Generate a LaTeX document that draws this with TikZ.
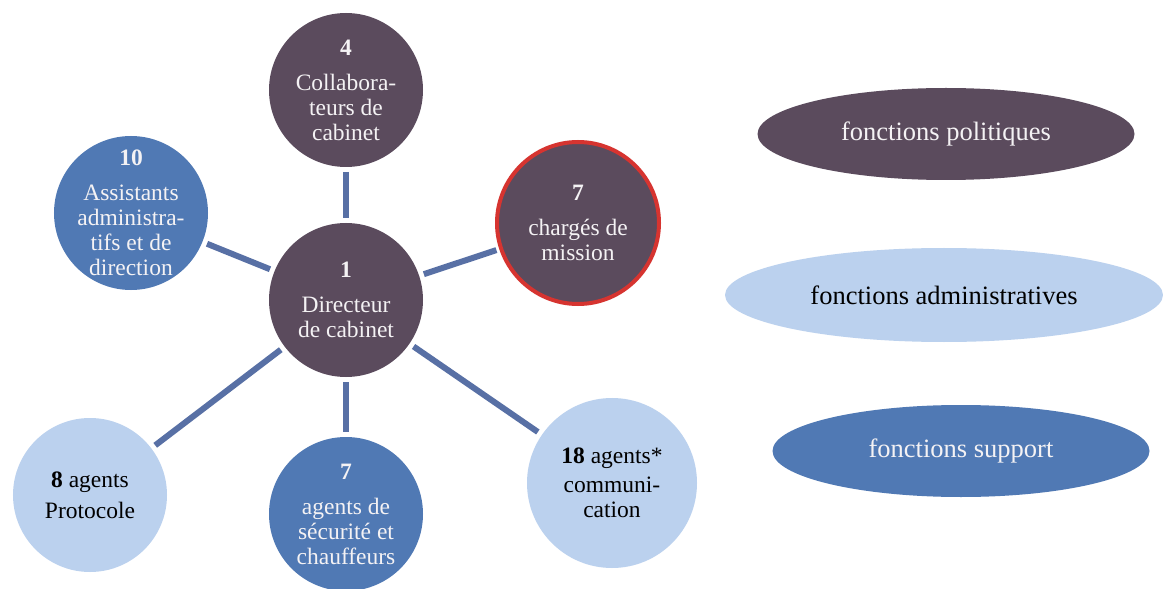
\documentclass[tikz,border=0pt]{standalone}
\usepackage{fontspec}
\setmainfont{Liberation Serif}
\usetikzlibrary{shapes.geometric}
\definecolor{darkp}{RGB}{91,75,93}
\definecolor{midb}{RGB}{80,121,180}
\definecolor{lightb}{RGB}{187,209,238}
\definecolor{linec}{RGB}{88,112,165}
\definecolor{redb}{RGB}{214,52,48}
\definecolor{offw}{RGB}{244,242,244}
\begin{document}
\begin{tikzpicture}[x=1bp,y=-1bp,
  circ/.style={circle, minimum size=154bp, inner sep=0pt, outer sep=0pt},
  darkc/.style={circ, fill=darkp},
  midc/.style={circ, fill=midb},
  lightc/.style={circ, fill=lightb},
  wtext/.style={text=offw, align=center, inner sep=0pt, font=\fontsize{23.5bp}{25bp}\selectfont},
  btext/.style={text=black, align=center, inner sep=0pt, font=\fontsize{23.5bp}{25bp}\selectfont},
  conn/.style={draw=linec, line width=6bp, shorten <=5bp, shorten >=5bp},
  legend/.style={ellipse, minimum width=377bp, minimum height=92bp, inner sep=0pt, font=\fontsize{26.5bp}{29bp}\selectfont}]
\useasboundingbox (0,0) rectangle (1163,589);
\fill[white] (0,0) rectangle (1163,589);

\node[darkc, label={[wtext]center:{\textbf{4}\\[10bp]Collabora-\\teurs de\\cabinet}}] (collab) at (346,90) {};
\node[midc, label={[wtext]center:{\textbf{10}\\[10bp]Assistants\\administra-\\tifs et de\\direction}}] (assist) at (131,213) {};
\node[darkc, label={[wtext]center:{\textbf{1}\\[10bp]Directeur\\de cabinet}}] (dir) at (346,300) {};
\node[darkc, draw=redb, line width=4bp, minimum size=162bp, label={[wtext]center:{\textbf{7}\\[10bp]chargés de\\mission}}] (charges) at (578,223) {};
\node[lightc, label={[btext]center:{\textbf{8} agents\\[6bp]Protocole}}] (proto) at (90,495) {};
\node[midc, label={[wtext]center:{\textbf{7}\\[10bp]agents de\\sécurité et\\chauffeurs}}] (sec) at (346,514) {};
\node[lightc, minimum size=170bp, label={[btext]center:{\textbf{18} agents*\\[4bp]communi-\\cation}}] (comm) at (612,483) {};

\draw[conn] (collab) -- (dir);
\draw[conn] (assist) -- (dir);
\draw[conn] (dir) -- (charges);
\draw[conn] (dir) -- (proto);
\draw[conn] (dir) -- (sec);
\draw[conn] (dir) -- (comm);

\node[legend, fill=darkp, text=offw] (pol) at (946,134) {fonctions politiques};
\node[legend, fill=lightb, text=black, minimum width=438bp, minimum height=94bp] (adm) at (944,295) {fonctions administratives};
\node[legend, fill=midb, text=offw] (sup) at (961,451) {fonctions support};
\end{tikzpicture}
\end{document}
